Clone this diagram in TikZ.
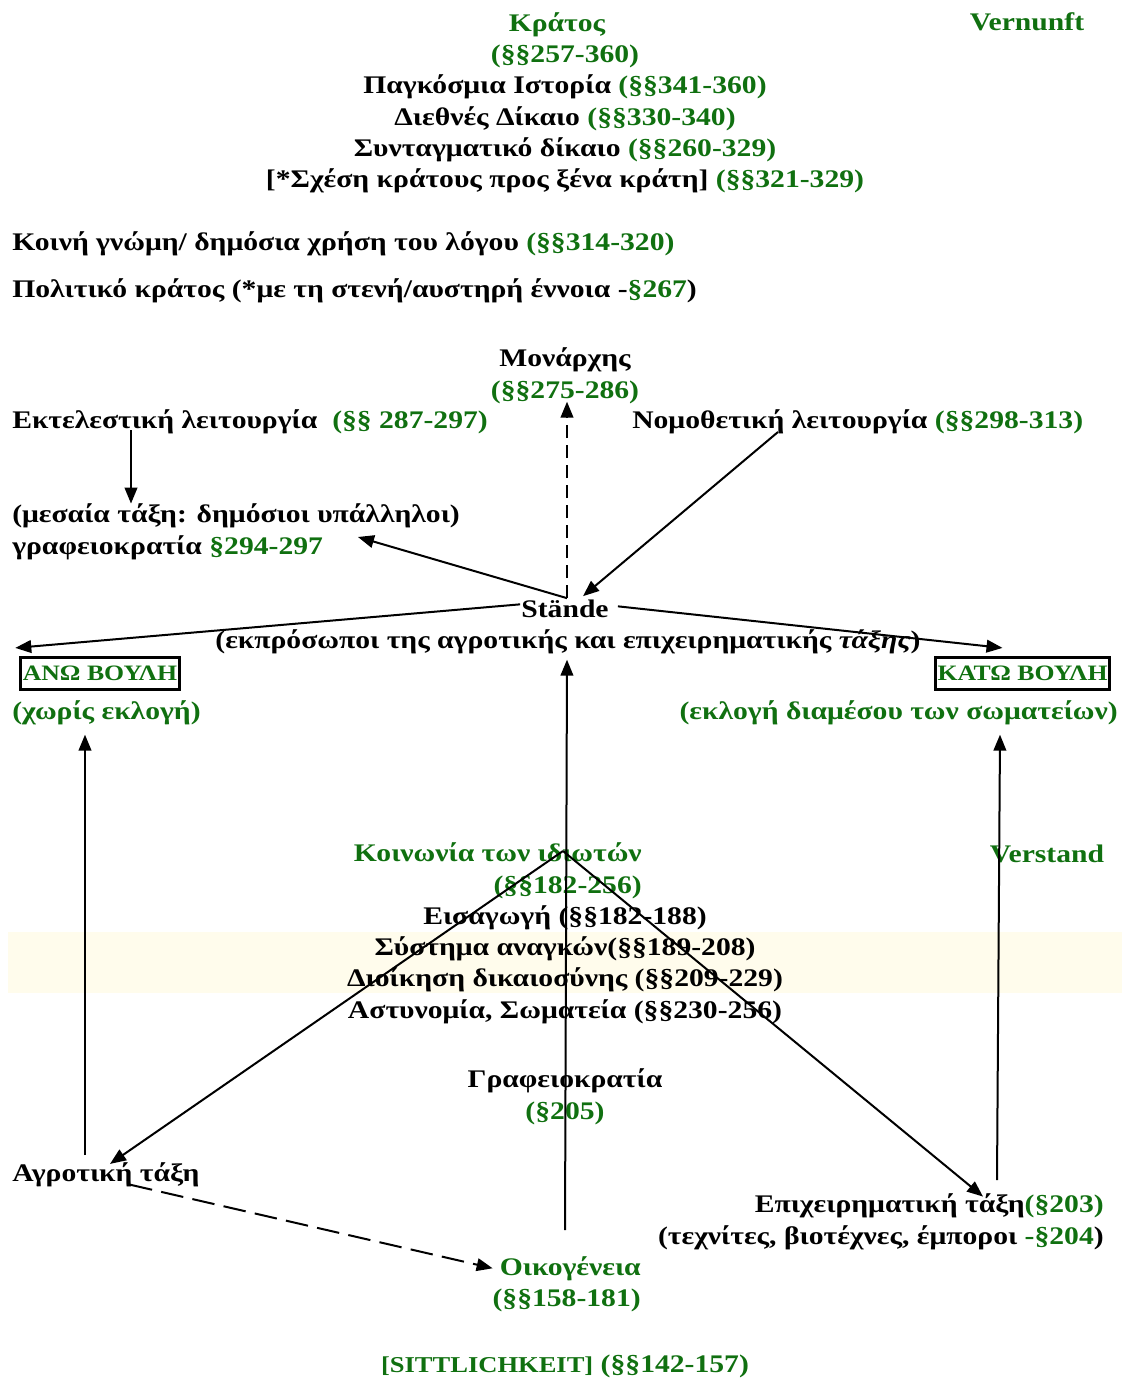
\documentclass[tikz,border=0pt]{standalone}
\usepackage{fontspec}
\setmainfont[FakeStretch=1.17]{Liberation Serif}
\usetikzlibrary{arrows.meta,calc,positioning}

\definecolor{hgreen}{RGB}{16,112,16}
\definecolor{band}{RGB}{255,252,236}
\newcommand{\grn}[1]{\textcolor{hgreen}{#1}}

\tikzset{
  txt/.style={inner sep=0pt, anchor=base},
  txtl/.style={inner sep=0pt, anchor=base west},
  txtr/.style={inner sep=0pt, anchor=base east},
  green/.style={text=hgreen},
  caps/.style={font=\fontsize{16.5}{20}\selectfont\bfseries},
  house/.style={draw, line width=2.3pt, inner xsep=1.5pt, inner ysep=6.5pt, text=hgreen, caps},
  conn/.style={-{Triangle[length=12pt,width=9.5pt]}, line width=1.5pt},
  dashline/.style={dash pattern=on 10pt off 5pt},
  longdash/.style={dash pattern=on 17pt off 7pt},
}

\begin{document}
\begin{tikzpicture}[x=0.75pt, y=-0.75pt, font=\fontsize{19}{23.5}\selectfont\bfseries]
\useasboundingbox (0,0) rectangle (1126,1380);
% bande
\fill[band] (8,932) rectangle (1122,993);

% Etat (base = derniere ligne)
\node[txt, align=center] (kratos) at (565,188)
  {\grn{Κράτος}\hspace*{12pt}\\ \grn{(§§257-360)}\\
   Παγκόσμια Ιστορία \grn{(§§341-360)}\\
   Διεθνές Δίκαιο \grn{(§§330-340)}\\
   Συνταγματικό δίκαιο \grn{(§§260-329)}\\
   {[}*Σχέση κράτους προς ξένα κράτη] \grn{(§§321-329)}};
\node[txt, green] (vernunft) at (1027,31) {Vernunft};
\node[txtl] (gnomi) at (12,250) {Κοινή γνώμη/ δημόσια χρήση του λόγου \grn{(§§314-320)}};
\node[txtl] (politiko) at (12,297) {Πολιτικό κράτος (*με τη στενή/αυστηρή έννοια -\grn{§267})};

% pouvoirs
\node[txt, align=center] (monarch) at (565,398) {Μονάρχης\\ \grn{(§§275-286)}};
\node[txtl] (exec) at (12,428) {Εκτελεστική λειτουργία\ \ \grn{(§§ 287-297)}};
\node[txtl] (legis) at (632,428) {Νομοθετική λειτουργία \grn{(§§298-313)}};
\node[txtl, align=left] (bureau) at (12,554) {(μεσαία τάξη: δημόσιοι υπάλληλοι)\\ γραφειοκρατία \grn{§294-297}};
\node[txt] (staende) at (565,617) {Stände};
\node[txt] (staendeSub) at (568,648) {(εκπρόσωποι της αγροτικής και επιχειρηματικής \textit{τάξης})};

% chambres
\node[house] (ano) at (100,673.5) {ΑΝΩ ΒΟΥΛΗ};
\node[txtl, green] (anoSub) at (12,719) {(χωρίς εκλογή)};
\node[house] (kato) at (1022.5,673.5) {ΚΑΤΩ ΒΟΥΛΗ};
\node[txtr, green] (katoSub) at (1118,719) {(εκλογή διαμέσου των σωματείων)};

% societe civile
\node[txtr, green, align=right] (koinonia) at (642,893) {Κοινωνία των ιδιωτών\\ (§§182-256)};
\node[txt, green] (verstand) at (1047,862) {Verstand};
\node[txt, align=center] (parts) at (565,1018)
  {Εισαγωγή (§§182-188)\\ Σύστημα αναγκών(§§189-208)\\
   Διοίκηση δικαιοσύνης (§§209-229)\\ Αστυνομία, Σωματεία (§§230-256)};
\node[txt, align=center] (grafeio) at (565,1119) {Γραφειοκρατία\\ \grn{(§205)}};
\node[txtl] (agrot) at (12,1181) {Αγροτική τάξη};
\node[txtr, align=right] (epix) at (1104,1244)
  {Επιχειρηματική τάξη\grn{(§203)}\\ (τεχνίτες, βιοτέχνες, έμποροι \grn{-§204})};
\node[txtr, green] (oikog) at (641,1275) {Οικογένεια};
\node[txtr, green] (oikogNum) at (641,1306) {(§§158-181)};
\node[txt, green] (sittlich) at (565,1372) {{\fontsize{17}{20}\selectfont[SITTLICHKEIT]} (§§142-157)};

% points libres
\coordinate (execOut) at (131,430);
\coordinate (legisOut) at (778,432);
\coordinate (bureauIn) at (358,537);
\coordinate (agrotOut) at (85,1155);
\coordinate (epixOut) at (997,1180);
\coordinate (koinOut) at (563,851);
\coordinate (famOut) at (565,1230);

% fleches
\draw[conn] (execOut) -- (execOut |- bureau.north);
\draw[conn, dashline] ($(staende.north)+(2,-1)$) -- ($(monarch.south)+(2,-2)$);
\draw[conn] (legisOut) -- ($(staende.north)+(18,-3)$);
\draw[conn] ($(staende.north)+(2,-1)$) -- (bureauIn);
\draw[conn] ($(staende.west)+(-1,-4)$) -- ($(ano.north west)+(-4,-8)$);
\draw[conn] ($(staende.east)+(9,-2)$) -- ($(kato.north)+(-20,-8)$);
\draw[conn] (famOut) -- ($(staendeSub.south)+(-1,6)$);
\draw[conn] (agrotOut) -- ($(agrotOut |- anoSub.south)+(0,10)$);
\draw[conn] (epixOut) -- ($(epixOut |- katoSub.south)+(3,10)$);
\draw[conn] (koinOut) -- ($(agrot.north west)+(98,2)$);
\draw[conn] (koinOut) -- ($(epix.north east)+(-121,3)$);
\draw[conn, longdash] ($(agrot.south west)+(118,-2)$) -- ($(oikog.west)+(-7,0)$);
\end{tikzpicture}
\end{document}
